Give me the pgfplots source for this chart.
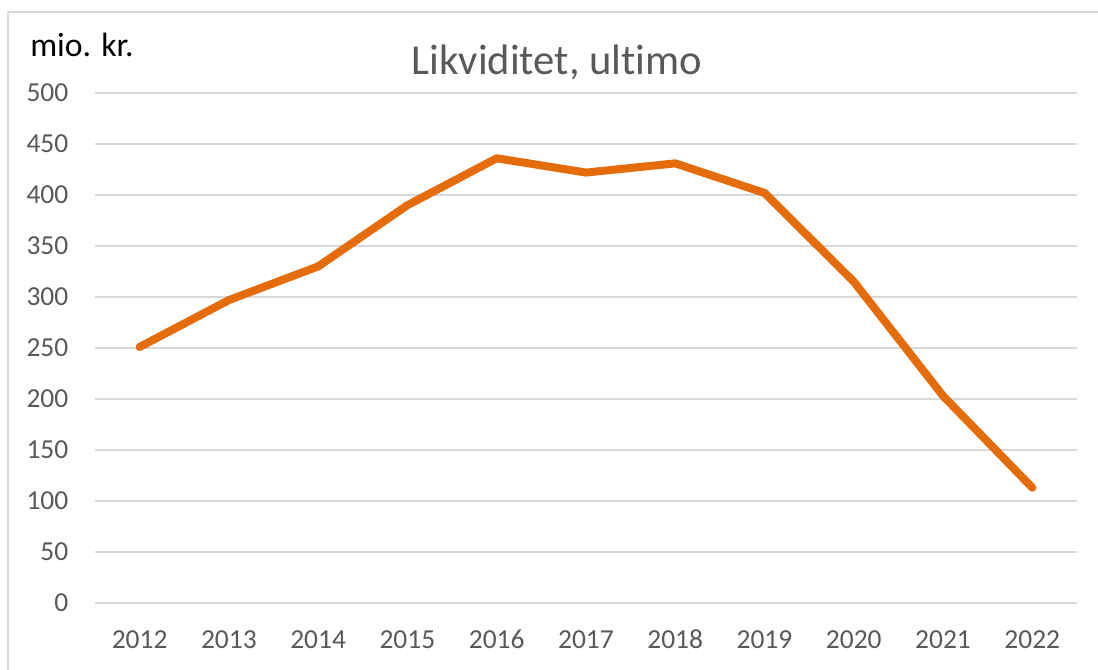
\documentclass[border=0pt]{standalone}
\usepackage{pgfplots}
\pgfplotsset{compat=1.18}
\usepackage{fontspec}
\setmainfont{Carlito}[Ligatures=NoCommon]
\definecolor{gridc}{HTML}{D9D9D9}
\definecolor{txtc}{HTML}{595959}
\definecolor{linec}{HTML}{E46C0A}
\begin{document}
\begin{tikzpicture}
\useasboundingbox (-71.25pt,-49.5pt) rectangle (752.25pt,452.25pt);
\begin{scope}
\clip (-71.25pt,-49.5pt) rectangle (752.25pt,452.25pt);
\draw[gridc, line width=1.2pt] (-65.25pt,-80pt) -- (-65.25pt,443.25pt) -- (800pt,443.25pt);
\end{scope}
\begin{axis}[
  at={(0pt,0pt)}, anchor=south west,
  scale only axis, width=736.5pt, height=382.5pt,
  xmin=2011.5, xmax=2022.5, ymin=0, ymax=500,
  xtick={2012,...,2022},
  xticklabels={2012,2013,2014,2015,2016,2017,2018,2019,2020,2021,2022},
  ytick={0,50,...,500},
  ymajorgrids, grid style={gridc, line width=1.1pt},
  axis line style={draw=none},
  major tick length=0pt,
  /pgf/number format/assume math mode=true,
  tick label style={font=\fontsize{20.6pt}{24pt}\selectfont, text=txtc},
  yticklabel style={anchor=east, xshift=-16.5pt},
  xticklabel style={anchor=base, yshift=-33.75pt},
  clip=false,
]
\addplot[linec, line width=6pt, line join=round, line cap=round] coordinates {
(2012,251) (2013,297) (2014,330) (2015,390) (2016,436) (2017,422)
(2018,431) (2019,402) (2020,315) (2021,203) (2022,113)};
\end{axis}
\node[anchor=base, text=txtc, font=\fontsize{32pt}{38pt}\selectfont] at (346.5pt,396pt) {Likviditet, ultimo};
\node[anchor=base west, inner sep=0pt, text=black, font=\fontsize{25.3pt}{30pt}\selectfont] at (-48.75pt,409.5pt) {mio. kr.};
\end{tikzpicture}
\end{document}
